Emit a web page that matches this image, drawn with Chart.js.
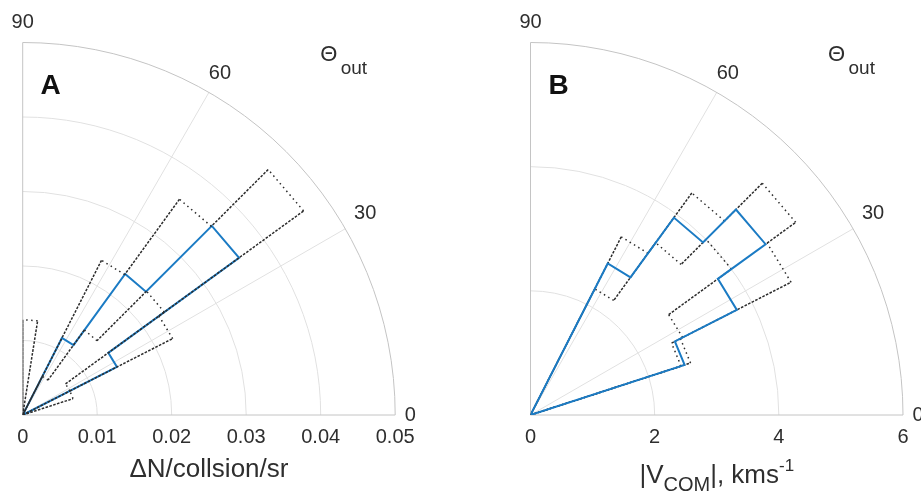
<!DOCTYPE html>
<html>
<head>
<meta charset="utf-8">
<script src="https://cdn.jsdelivr.net/npm/chart.js@4.4.1/dist/chart.umd.min.js"></script>
<style>
  html, body { margin: 0; background: #fff; }
  #wrap { position: relative; width: 921px; height: 495px; }
  canvas { position: absolute; top: 0; }
</style>
</head>
<body>
<div id="wrap">
  <canvas id="panelA" width="460" height="495" style="left:0"></canvas>
  <canvas id="panelB" width="461" height="495" style="left:460px"></canvas>
</div>
<script>
// Outgoing angle bins (degrees) and angular grid
var thetaEdges = [0, 9, 18, 27, 36, 45, 54, 63, 72, 81, 90];
var thetaTicks = [0, 30, 60, 90];

// Panel A: yield per collision per steradian, mean and bounds per bin
var yieldMean = [0, 0, 0, 0.0142, 0.0359, 0.0234, 0.0116, 0, 0, 0];
var yieldHigh = [0, 0, 0.0071, 0.0226, 0.0466, 0.0358, 0.0233, 0, 0, 0.0128];
var yieldLow  = [0, 0, 0, 0.0071, 0.0235, 0.0141, 0.0058, 0, 0, 0];
var yieldTicks = [0, 0.01, 0.02, 0.03, 0.04, 0.05];
var yieldTickLabels = ['0', '0.01', '0.02', '0.03', '0.04', '0.05'];

// Panel B: centre-of-mass speed (km/s), mean and bounds per bin
var speedMean = [0, 0, 2.61, 3.73, 4.68, 3.93, 2.74, 0, 0, 0];
var speedHigh = [0, 0, 2.71, 4.71, 5.28, 4.42, 3.22, 0, 0, 0];
var speedLow  = [0, 0, 2.55, 2.75, 4.00, 3.43, 2.28, 0, 0, 0];
var speedTicks = [0, 2, 4, 6];
var speedTickLabels = ['0', '2', '4', '6'];

var BLUE = '#1b7bc4';
var BOUND = '#2c2c2c';
var TEXT = '#2e2e2e';
var FONT = '"Liberation Sans", Arial, Helvetica, sans-serif';

function toXY(deg, r, kind) {
  var t = deg * Math.PI / 180;
  return { x: r * Math.cos(t), y: r * Math.sin(t), kind: kind };
}

// polar histogram outline: radial step at each bin edge, arc across the bin
function stairs(vals) {
  var pts = [toXY(0, 0, 'radial')];
  for (var i = 0; i < vals.length; i++) {
    pts.push(toXY(thetaEdges[i], vals[i], 'radial'));
    pts.push(toXY(thetaEdges[i + 1], vals[i], 'arc'));
  }
  pts.push(toXY(90, 0, 'radial'));
  return pts;
}

function meanSet(vals) {
  return {
    data: stairs(vals), showLine: true, borderColor: BLUE, borderWidth: 2,
    pointRadius: 0, fill: false
  };
}

function boundSet(vals) {
  var pts = stairs(vals);
  return {
    data: pts, showLine: true, borderColor: BOUND, borderWidth: 1.5,
    pointRadius: 0, fill: false,
    segment: {
      borderDash: function (ctx) {
        return pts[ctx.p1DataIndex].kind === 'arc' ? [1.5, 3.5] : [2.6, 1.4];
      }
    }
  };
}

function polarPlugin(cfg) {
  return {
    id: 'polarFrame',
    beforeDatasetsDraw: function (chart) {
      var ctx = chart.ctx, xs = chart.scales.x, ys = chart.scales.y;
      var cx = xs.getPixelForValue(0), cy = ys.getPixelForValue(0);
      var rMax = xs.getPixelForValue(cfg.ticks[cfg.ticks.length - 1]) - cx;
      ctx.save();
      ctx.lineWidth = 1;
      ctx.strokeStyle = '#e1e1e1';
      cfg.ticks.slice(1, -1).forEach(function (v) {
        ctx.beginPath();
        ctx.arc(cx, cy, xs.getPixelForValue(v) - cx, -Math.PI / 2, 0);
        ctx.stroke();
      });
      thetaTicks.slice(1, -1).forEach(function (a) {
        var t = a * Math.PI / 180;
        ctx.beginPath();
        ctx.moveTo(cx, cy);
        ctx.lineTo(cx + rMax * Math.cos(t), cy - rMax * Math.sin(t));
        ctx.stroke();
      });
      ctx.strokeStyle = '#c4c4c4';
      ctx.beginPath();
      ctx.moveTo(cx, cy - rMax);
      ctx.lineTo(cx, cy);
      ctx.lineTo(cx + rMax, cy);
      ctx.moveTo(cx + rMax, cy);
      ctx.arc(cx, cy, rMax, 0, -Math.PI / 2, true);
      ctx.stroke();
      ctx.restore();
    },
    afterDraw: function (chart) {
      var ctx = chart.ctx, xs = chart.scales.x, ys = chart.scales.y;
      var cx = xs.getPixelForValue(0), cy = ys.getPixelForValue(0);
      var rMax = xs.getPixelForValue(cfg.ticks[cfg.ticks.length - 1]) - cx;
      ctx.save();
      ctx.fillStyle = TEXT;

      // radial tick labels along the bottom
      ctx.font = '20px ' + FONT;
      ctx.textAlign = 'center';
      ctx.textBaseline = 'middle';
      cfg.ticks.forEach(function (v, i) {
        ctx.fillText(cfg.tickLabels[i], xs.getPixelForValue(v), cy + 22);
      });

      // angle labels outside the rim
      var gaps = [15, 23, 22, 20];
      thetaTicks.forEach(function (a, i) {
        var t = a * Math.PI / 180, r = rMax + gaps[i];
        var dy = a === 30 ? -4 : 0;
        ctx.fillText(String(a), cx + r * Math.cos(t), cy - r * Math.sin(t) + dy);
      });

      // angle axis name
      ctx.font = '22px ' + FONT;
      ctx.fillText('\u0398', cx + 306, 55);
      ctx.font = '19px ' + FONT;
      ctx.textAlign = 'left';
      ctx.textBaseline = 'alphabetic';
      ctx.fillText('out', cx + 318, 74);

      // panel letter
      ctx.fillStyle = '#111';
      ctx.font = 'bold 28px ' + FONT;
      ctx.textAlign = 'center';
      ctx.textBaseline = 'middle';
      ctx.fillText(cfg.letter, cx + 28, 86);
      ctx.fillStyle = TEXT;

      // radial axis title, drawn piece by piece for sub/superscripts
      var parts = cfg.title;
      var widths = parts.map(function (p) {
        ctx.font = p.size + 'px ' + FONT;
        return ctx.measureText(p.text).width;
      });
      var total = widths.reduce(function (s, w) { return s + w; }, 0);
      var x = cx + rMax / 2 - total / 2;
      ctx.textAlign = 'left';
      ctx.textBaseline = 'alphabetic';
      parts.forEach(function (p, i) {
        ctx.font = p.size + 'px ' + FONT;
        ctx.fillText(p.text, x, cy + cfg.titleY + (p.shift || 0));
        x += widths[i];
      });
      ctx.restore();
    }
  };
}

function makePanel(id, cfg) {
  var rMax = cfg.ticks[cfg.ticks.length - 1];
  var datasets = cfg.meanOnTop
    ? [meanSet(cfg.mean), boundSet(cfg.high), boundSet(cfg.low)]
    : [boundSet(cfg.high), boundSet(cfg.low), meanSet(cfg.mean)];
  return new Chart(document.getElementById(id), {
    type: 'scatter',
    data: { datasets: datasets },
    options: {
      responsive: false,
      animation: false,
      layout: { padding: cfg.padding },
      plugins: { legend: { display: false }, tooltip: { enabled: false } },
      scales: {
        x: { type: 'linear', min: 0, max: rMax, display: false },
        y: { type: 'linear', min: 0, max: rMax, display: false }
      }
    },
    plugins: [polarPlugin(cfg)]
  });
}

makePanel('panelA', {
  mean: yieldMean, high: yieldHigh, low: yieldLow,
  ticks: yieldTicks, tickLabels: yieldTickLabels,
  letter: 'A', meanOnTop: false,
  padding: { left: 22.7, right: 64.8, top: 42.5, bottom: 80 },
  titleY: 62,
  title: [{ text: '\u0394N/collsion/sr', size: 26 }]
});

makePanel('panelB', {
  mean: speedMean, high: speedHigh, low: speedLow,
  ticks: speedTicks, tickLabels: speedTickLabels,
  letter: 'B', meanOnTop: true,
  padding: { left: 70.5, right: 18, top: 42.5, bottom: 80 },
  titleY: 68,
  title: [
    { text: '|V', size: 26 },
    { text: 'COM', size: 20, shift: 8 },
    { text: '|, kms', size: 26 },
    { text: '-1', size: 17, shift: -12 }
  ]
});
</script>
</body>
</html>
